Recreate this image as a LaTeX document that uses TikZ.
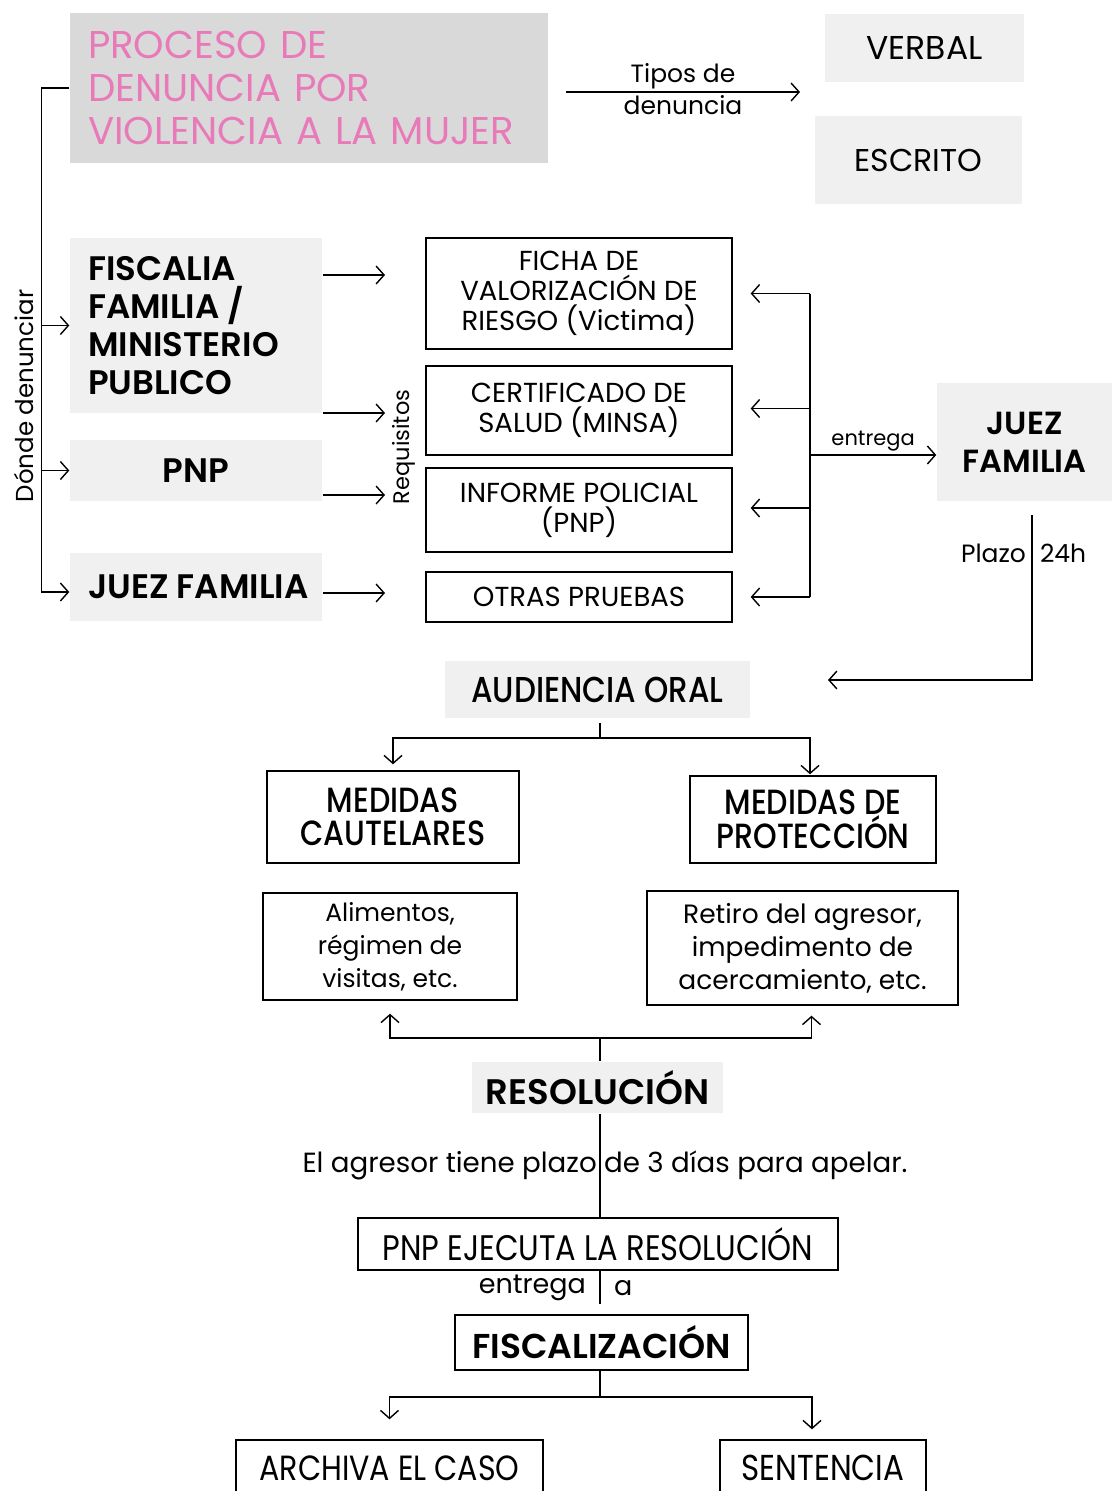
\documentclass[tikz,border=0pt]{standalone}
\usepackage{fontspec}
\setmainfont{Poppins}
\newfontfamily\narrowfont[FakeStretch=0.86]{Poppins}
\IfFontExistsTF{Poppins SemiBold}{\newfontfamily\semifont{Poppins SemiBold}}{\newcommand\semifont{\bfseries}}
\IfFontExistsTF{Poppins Medium}{\newfontfamily\narrowmed[FakeStretch=0.86]{Poppins Medium}}{\newcommand\narrowmed{\narrowfont\bfseries}}
\usetikzlibrary{arrows.meta}
\definecolor{titlegray}{RGB}{217,217,217}
\definecolor{boxgray}{RGB}{240,240,240}
\definecolor{titlepink}{RGB}{233,122,185}

\begin{document}
\begin{tikzpicture}[x=1pt, y=-1pt, >={Straight Barb[length=8pt,width=18pt]}, line width=1.4pt]
  \tikzset{
    graybox/.style={fill=boxgray, align=center},
    linebox/.style={draw, align=center},
    bigtxt/.style={font=\semifont\fontsize{34}{38}\selectfont},
    reqtxt/.style={font=\fontsize{27.5}{30}\selectfont},
    condtxt/.style={font=\narrowmed\fontsize{35}{33}\selectfont},
    small/.style={font=\fontsize{25}{28}\selectfont}
  }
  \useasboundingbox (0,0) rectangle (1112,1491);

  % Titulo y tipos de denuncia
  \node[fill=titlegray, minimum width=478pt, minimum height=150pt, text width=442pt,
        align=left, text=titlepink, font=\fontsize{38.7}{43}\selectfont]
    (titulo) at (309,88) {PROCESO DE\\DENUNCIA POR\\VIOLENCIA A LA MUJER};
  \node[graybox, minimum width=199pt, minimum height=68pt, font=\fontsize{33}{36}\selectfont]
    (verbal) at (924.5,48) {VERBAL};
  \node[graybox, minimum width=207pt, minimum height=88pt, font=\fontsize{31.5}{36}\selectfont]
    (escrito) at (918.5,160) {ESCRITO};
  \coordinate (tiposA) at (566,92);
  \coordinate (tiposB) at (800,92);
  \draw[->] (tiposA) -- node[small, above, inner sep=2pt] {Tipos de}
    node[small, below, inner sep=3pt] {denuncia} (tiposB);

  % Donde denunciar
  \node[graybox, minimum width=252pt, minimum height=175pt, text width=216pt, align=flush left, bigtxt]
    (fiscalia) at (196,325.5) {FISCALIA\\FAMILIA /\\MINISTERIO\\PUBLICO};
  \node[graybox, minimum width=252pt, minimum height=61pt, bigtxt]
    (pnp) at (196,470.5) {PNP};
  \node[graybox, minimum width=252pt, minimum height=68pt, text width=216pt, align=flush left, bigtxt]
    (juezA) at (196,587) {\mbox{JUEZ FAMILIA}};
  \draw[->] (titulo.west) -| ([xshift=-28pt,yshift=-5pt]juezA.west) -- ([yshift=-5pt]juezA.west);
  \draw[->] ([xshift=-28pt]fiscalia.west) -- (fiscalia.west);
  \draw[->] ([xshift=-28pt]pnp.west) -- (pnp.west);
  \node[rotate=90, font=\fontsize{24.5}{28}\selectfont] (donde) at (24,396) {Dónde denunciar};

  % Requisitos
  \node[linebox, minimum width=306pt, minimum height=111pt, reqtxt]
    (ficha) at (579,293.5) {FICHA DE\\VALORIZACIÓN DE\\RIESGO (Victima)};
  \node[linebox, minimum width=306pt, minimum height=89pt, reqtxt]
    (certificado) at (579,410.5) {CERTIFICADO DE\\SALUD (MINSA)};
  \node[linebox, minimum width=306pt, minimum height=84pt, reqtxt]
    (informe) at (579,510) {INFORME POLICIAL\\(PNP)};
  \node[linebox, minimum width=306pt, minimum height=50pt, reqtxt]
    (otras) at (579,597) {OTRAS PRUEBAS};
  \coordinate (reqA) at (385,275);
  \coordinate (reqB) at (385,413);
  \coordinate (reqC) at (385,495);
  \coordinate (reqD) at (385,593);
  \draw[->] (fiscalia.east |- reqA) -- (reqA);
  \draw[->] (fiscalia.east |- reqB) -- (reqB);
  \draw[->] (pnp.east |- reqC) -- (reqC);
  \draw[->] (juezA.east |- reqD) -- (reqD);
  \node[rotate=90, font=\fontsize{22.5}{26}\selectfont] (requisitos) at (404,447) {Requisitos};

  % Entrega al juez
  \coordinate (colector) at (810,455);
  \node[graybox, minimum width=175pt, minimum height=118pt, font=\semifont\fontsize{32}{38}\selectfont]
    (juezB) at (1024.5,442) {JUEZ\\FAMILIA};
  \draw (ficha.east -| colector) -- (otras.east -| colector);
  \draw[->] (ficha.east -| colector) -- ([xshift=18pt]ficha.east);
  \draw[->] ([yshift=2pt]certificado.east -| colector) -- ([xshift=18pt,yshift=2pt]certificado.east);
  \draw[->] ([yshift=2pt]informe.east -| colector) -- ([xshift=18pt,yshift=2pt]informe.east);
  \draw[->] (otras.east -| colector) -- ([xshift=18pt]otras.east);
  \draw[->] (colector) -- node[above, font=\fontsize{21}{24}\selectfont] {entrega} (colector -| juezB.west);

  % Plazo
  \coordinate (plazoA) at (1032,515);
  \coordinate (plazoB) at (1032,680);
  \coordinate (plazoC) at (828,680);
  \draw[->] (plazoA) -- (plazoB) -- (plazoC);
  \node[small, anchor=east] (plazo) at (1030,553) {Plazo};
  \node[small, anchor=west] (horas) at (1036,553) {24h};

  % Audiencia
  \node[graybox, minimum width=305pt, minimum height=57pt, font=\narrowmed\fontsize{36}{38}\selectfont]
    (audiencia) at (597.5,689.5) {AUDIENCIA ORAL};
  \node[linebox, minimum width=252pt, minimum height=92pt, condtxt]
    (cautelares) at (393,817) {MEDIDAS\\CAUTELARES};
  \node[linebox, minimum width=246pt, minimum height=87pt, condtxt]
    (proteccion) at (813,819.5) {MEDIDAS DE\\PROTECCIÓN};
  \node[linebox, minimum width=254pt, minimum height=107pt, font=\fontsize{25}{33}\selectfont]
    (alimentos) at (390,946.5) {Alimentos,\\régimen de\\visitas, etc.};
  \node[linebox, minimum width=311pt, minimum height=114pt, font=\fontsize{26.5}{33}\selectfont]
    (retiro) at (802.5,948) {Retiro del agresor,\\impedimento de\\acercamiento, etc.};
  \coordinate (ramaA) at (600,738);
  \draw ([yshift=-4pt]audiencia.south -| ramaA) -- (ramaA);
  \draw[->] (ramaA) -| ([yshift=6pt]cautelares.north);
  \draw[->] (ramaA) -| ([xshift=-3pt,yshift=1pt]proteccion.north);

  % Resolucion
  \node[graybox, minimum width=251pt, minimum height=51pt, font=\semifont\fontsize{35.5}{38}\selectfont]
    (resolucion) at (597.5,1087.5) {RESOLUCIÓN};
  \coordinate (ramaB) at (600,1038);
  \draw (resolucion.north -| ramaB) -- (ramaB);
  \draw[->] (ramaB) -| ([yshift=-13pt]alimentos.south);
  \draw[->] (ramaB) -| ([xshift=9pt,yshift=-10pt]retiro.south);
  \node[font=\fontsize{27.7}{30}\selectfont] (apelar) at (605,1165) {El agresor tiene plazo de 3 días para apelar.};

  % Ejecucion y fiscalizacion
  \node[linebox, minimum width=480pt, minimum height=52pt, font=\narrowfont\fontsize{35.5}{36}\selectfont]
    (ejecuta) at (598,1244) {PNP EJECUTA LA RESOLUCIÓN};
  \node[linebox, minimum width=293pt, minimum height=55pt, font=\semifont\fontsize{34.5}{38}\selectfont]
    (fiscalizacion) at (601.5,1342.5) {FISCALIZACIÓN};
  \draw (resolucion.south -| ramaB) -- (ejecuta.north -| ramaB);
  \draw (ejecuta.south -| ramaB) -- ([yshift=10pt]fiscalizacion.north -| ramaB);
  \node[font=\fontsize{27}{30}\selectfont, anchor=east] (entrega) at (590,1288) {entrega};
  \node[font=\fontsize{27}{30}\selectfont, anchor=west] (aa) at (610,1288) {a};
  \node[linebox, minimum width=307pt, minimum height=56pt, font=\narrowfont\fontsize{35}{36}\selectfont]
    (archiva) at (389.5,1468) {ARCHIVA EL CASO};
  \node[linebox, minimum width=206pt, minimum height=56pt, font=\narrowfont\fontsize{36}{36}\selectfont]
    (sentencia) at (823,1468) {SENTENCIA};
  \coordinate (ramaC) at (600,1397);
  \draw (fiscalizacion.south -| ramaC) -- (ramaC);
  \draw[->] (ramaC) -| ([yshift=20pt]archiva.north);
  \draw[->] (ramaC) -| ([xshift=-11pt,yshift=10pt]sentencia.north);
\end{tikzpicture}
\end{document}
